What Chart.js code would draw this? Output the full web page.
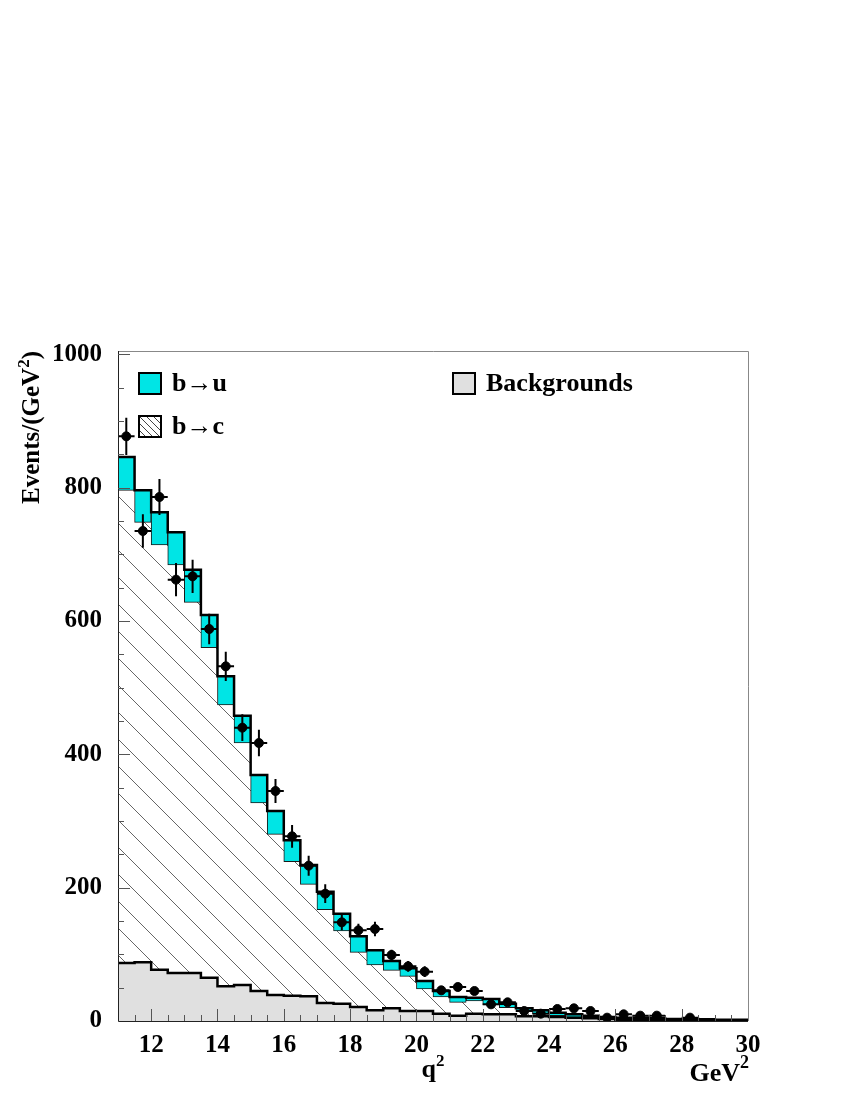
<!doctype html>
<html lang="en">
<head>
<meta charset="utf-8">
<title>q2 spectrum</title>
<script src="https://cdn.jsdelivr.net/npm/chart.js/dist/chart.umd.min.js"></script>
<style>
  html, body { margin: 0; padding: 0; background: #fff; }
  #chart { display: block; }
</style>
</head>
<body>
<canvas id="chart" width="850" height="1100"></canvas>
<script>
// q^2 bins, 0.5 GeV^2 wide, from 11 to 30
const binWidth = 0.5;
const binCentres = [11.25, 11.75, 12.25, 12.75, 13.25, 13.75, 14.25, 14.75, 15.25, 15.75,
  16.25, 16.75, 17.25, 17.75, 18.25, 18.75, 19.25, 19.75, 20.25, 20.75,
  21.25, 21.75, 22.25, 22.75, 23.25, 23.75, 24.25, 24.75, 25.25, 25.75,
  26.25, 26.75, 27.25, 27.75, 28.25, 28.75, 29.25, 29.75];

// stacked components, events / GeV^2
const backgrounds = [87, 88, 77, 72, 72, 65, 52, 54, 45, 39, 38, 37, 27, 26, 21, 16, 19, 15, 15, 11,
  8, 11, 10, 10, 7, 7, 6, 5, 4, 3, 2, 2, 2, 1.5, 1.5, 1, 0.5, 0.5];
const bToC = [709, 660, 637, 612, 556, 495, 422, 363, 282, 241, 201, 168, 140, 109, 82, 68, 57, 52, 33, 25,
  20, 19, 14, 10, 7, 4, 2, 0.5, 1, 1, 1.5, 1, 0.5, 0.5, 0.5, 0.5, 0.5, 0.5];
const bToU = [50, 48, 49, 49, 49, 49, 43, 41, 42, 35, 32, 29, 27, 26, 24, 22, 14, 12, 12, 9,
  8, 5, 9, 6, 5, 5, 4.5, 4.5, 3, 2, 1.5, 2, 1.5, 1, 1, 1, 1, 1];

// data points and errors
const dataValues = [877, 735, 786, 662, 667, 588, 532, 440, 417, 345, 277, 233, 191, 148, 136, 138, 99, 82, 74, 46,
  51, 45, 25, 28, 15, 11, 18, 19, 15, 5, 10, 8, 8, null, 5, null, null, null];
const dataErrors = [28, 25, 27, 25, 25, 23, 22, 20, 20, 18, 17, 15, 14, 12, 10, 11, 8, 8, 8, 6,
  6, 6, 5, 5, 4, 4, 4, 4, 4, 3, 3, 3, 3, null, 2, null, null, null];

const xTickLabels = [12, 14, 16, 18, 20, 22, 24, 26, 28, 30];
const yTickLabels = [0, 200, 400, 600, 800, 1000];

const CYAN = '#00e5e5';
const GREY = '#e0e0e0';
const FONT = 'Liberation Serif';

const canvas = document.getElementById('chart');
const ctx = canvas.getContext('2d');

function hatch(size, color) {
  const c = document.createElement('canvas');
  c.width = c.height = size;
  const g = c.getContext('2d');
  g.strokeStyle = color;
  g.lineWidth = 1;
  g.beginPath();
  for (const o of [-size, 0, size]) { g.moveTo(o, 0); g.lineTo(o + size, size); }
  g.stroke();
  return ctx.createPattern(c, 'repeat');
}

// text with a raised "2"; parts = [[text, size, rise], ...], drawn from x on baseline y
function richText(ctx, parts, x, y, align) {
  let w = 0;
  parts.forEach(([t, s]) => { ctx.font = `bold ${s}px "${FONT}"`; w += ctx.measureText(t).width; });
  let cx = align === 'right' ? x - w : align === 'center' ? x - w / 2 : x;
  ctx.textAlign = 'left';
  ctx.textBaseline = 'alphabetic';
  parts.forEach(([t, s, r]) => {
    ctx.font = `bold ${s}px "${FONT}"`;
    ctx.fillText(t, cx, y - (r || 0));
    cx += ctx.measureText(t).width;
  });
}

// cumulative levels for the stack
const bcTop = backgrounds.map((v, i) => v + bToC[i]);
const total = bcTop.map((v, i) => v + bToU[i]);

// step outlines: left edges plus closing point at 30
const stepLine = arr => {
  const pts = binCentres.map((c, i) => ({ x: c - binWidth / 2, y: arr[i] }));
  pts.push({ x: binCentres[binCentres.length - 1] + binWidth / 2, y: arr[arr.length - 1] });
  return pts;
};

const points = [];
binCentres.forEach((c, i) => { if (dataValues[i] != null) points.push({ x: c, y: dataValues[i], e: dataErrors[i] }); });

const decor = {
  id: 'decor',
  afterDatasetsDraw(chart) {
    const { ctx, chartArea: a, scales: { x, y } } = chart;
    ctx.save();
    // error bars
    ctx.strokeStyle = '#000';
    ctx.lineWidth = 2;
    points.forEach(p => {
      const px = x.getPixelForValue(p.x), py = y.getPixelForValue(p.y);
      ctx.beginPath();
      ctx.moveTo(px, y.getPixelForValue(p.y + p.e));
      ctx.lineTo(px, y.getPixelForValue(Math.max(p.y - p.e, 0)));
      ctx.moveTo(x.getPixelForValue(p.x - binWidth / 2), py);
      ctx.lineTo(x.getPixelForValue(p.x + binWidth / 2), py);
      ctx.stroke();
    });

    // frame
    ctx.lineWidth = 1;
    ctx.strokeStyle = '#888';
    ctx.beginPath();
    ctx.moveTo(a.left, a.top + 0.5); ctx.lineTo(a.right + 0.5, a.top + 0.5);
    ctx.lineTo(a.right + 0.5, a.bottom);
    ctx.stroke();
    ctx.strokeStyle = '#222';
    ctx.beginPath();
    ctx.moveTo(a.left + 0.5, a.top); ctx.lineTo(a.left + 0.5, a.bottom + 0.5);
    ctx.lineTo(a.right, a.bottom + 0.5);
    ctx.stroke();

    // inward ticks
    ctx.strokeStyle = '#555';
    ctx.beginPath();
    for (let v = 11.5; v < 30; v += 0.5) {
      const px = Math.round(x.getPixelForValue(v)) + 0.5;
      const len = xTickLabels.includes(v) ? 12 : 6;
      ctx.moveTo(px, a.bottom); ctx.lineTo(px, a.bottom - len);
    }
    for (let v = 50; v <= 1000; v += 50) {
      const py = Math.round(y.getPixelForValue(v)) + 0.5;
      const len = yTickLabels.includes(v) ? 12 : 6;
      ctx.moveTo(a.left, py); ctx.lineTo(a.left + len, py);
    }
    ctx.stroke();

    // legend
    ctx.font = `bold 26px "${FONT}"`;
    ctx.textBaseline = 'middle';
    ctx.textAlign = 'left';
    ctx.lineWidth = 2;
    ctx.strokeStyle = '#000';
    const box = (bx, by, fill, label) => {
      ctx.fillStyle = fill;
      ctx.fillRect(bx, by, 22, 21);
      ctx.strokeRect(bx, by, 22, 21);
      ctx.fillStyle = '#000';
      ctx.fillText(label, bx + 33, by + 11);
    };
    box(139, 373, CYAN, 'b\u2192u');
    box(139, 416, '#fff', 'b\u2192c');
    ctx.save();
    ctx.beginPath(); ctx.rect(140, 417, 20, 19); ctx.clip();
    ctx.lineWidth = 1; ctx.strokeStyle = '#444';
    ctx.beginPath();
    for (let o = -21; o < 24; o += 7) { ctx.moveTo(139 + o, 416); ctx.lineTo(139 + o + 22, 438); }
    ctx.stroke();
    ctx.restore();
    box(453, 373, GREY, 'Backgrounds');

    // axis titles
    ctx.fillStyle = '#000';
    richText(ctx, [['q', 26], ['2', 17, 11]], (a.left + a.right) / 2, 1077, 'center');
    richText(ctx, [['GeV', 26], ['2', 18, 13]], a.right + 1, 1081, 'right');
    ctx.save();
    ctx.translate(39, a.top);
    ctx.rotate(-Math.PI / 2);
    richText(ctx, [['Events/(GeV', 25], ['2', 17, 10], [')', 25]], 0, 0, 'right');
    ctx.restore();
    ctx.restore();
  }
};

new Chart(ctx, {
  type: 'bar',
  data: {
    datasets: [
      {
        type: 'scatter', order: 0,
        data: points,
        pointRadius: 4.5, pointHoverRadius: 4.5,
        pointBackgroundColor: '#000', pointBorderColor: '#000'
      },
      {
        type: 'line', order: 1,
        data: stepLine(total), stepped: 'before',
        borderColor: '#000', borderWidth: 2.5, pointRadius: 0, fill: false
      },
      {
        type: 'line', order: 1,
        data: stepLine(backgrounds), stepped: 'before',
        borderColor: '#000', borderWidth: 2.5, pointRadius: 0, fill: false
      },
      {
        label: 'b\u2192u', order: 2,
        data: binCentres.map((c, i) => ({ x: c, y: [bcTop[i], total[i]] })),
        backgroundColor: CYAN, borderColor: '#1a1a1a', borderWidth: 1, borderSkipped: false,
        grouped: false, barPercentage: 1, categoryPercentage: 1
      },
      {
        label: 'Backgrounds', order: 3,
        data: binCentres.map((c, i) => ({ x: c, y: [0, backgrounds[i]] })),
        backgroundColor: GREY, borderWidth: 0,
        grouped: false, barPercentage: 1, categoryPercentage: 1
      },
      {
        label: 'b\u2192c', order: 4,
        data: binCentres.map((c, i) => ({ x: c, y: [backgrounds[i], bcTop[i]] })),
        backgroundColor: hatch(27, '#666'), borderWidth: 0,
        grouped: false, barPercentage: 1, categoryPercentage: 1
      }
    ]
  },
  options: {
    responsive: false,
    animation: false,
    layout: { padding: { top: 351, right: 102, left: 0, bottom: 0 } },
    plugins: { legend: { display: false }, tooltip: { enabled: false } },
    scales: {
      x: {
        type: 'linear', min: 11, max: 30, offset: false,
        afterFit: s => { s.height = 79; },
        afterBuildTicks: s => { s.ticks = xTickLabels.map(v => ({ value: v })); },
        grid: { display: false, drawTicks: false },
        border: { display: false },
        ticks: { color: '#000', padding: 10, maxRotation: 0, callback: v => String(v),
          font: { family: FONT, size: 25, weight: 'bold' } }
      },
      y: {
        min: 0, max: 1005,
        afterFit: s => { s.width = 118; },
        afterBuildTicks: s => { s.ticks = yTickLabels.map(v => ({ value: v })); },
        grid: { display: false, drawTicks: false },
        border: { display: false },
        ticks: { color: '#000', padding: 16, callback: v => String(v),
          font: { family: FONT, size: 25, weight: 'bold' } }
      }
    }
  },
  plugins: [decor]
});
</script>
</body>
</html>
